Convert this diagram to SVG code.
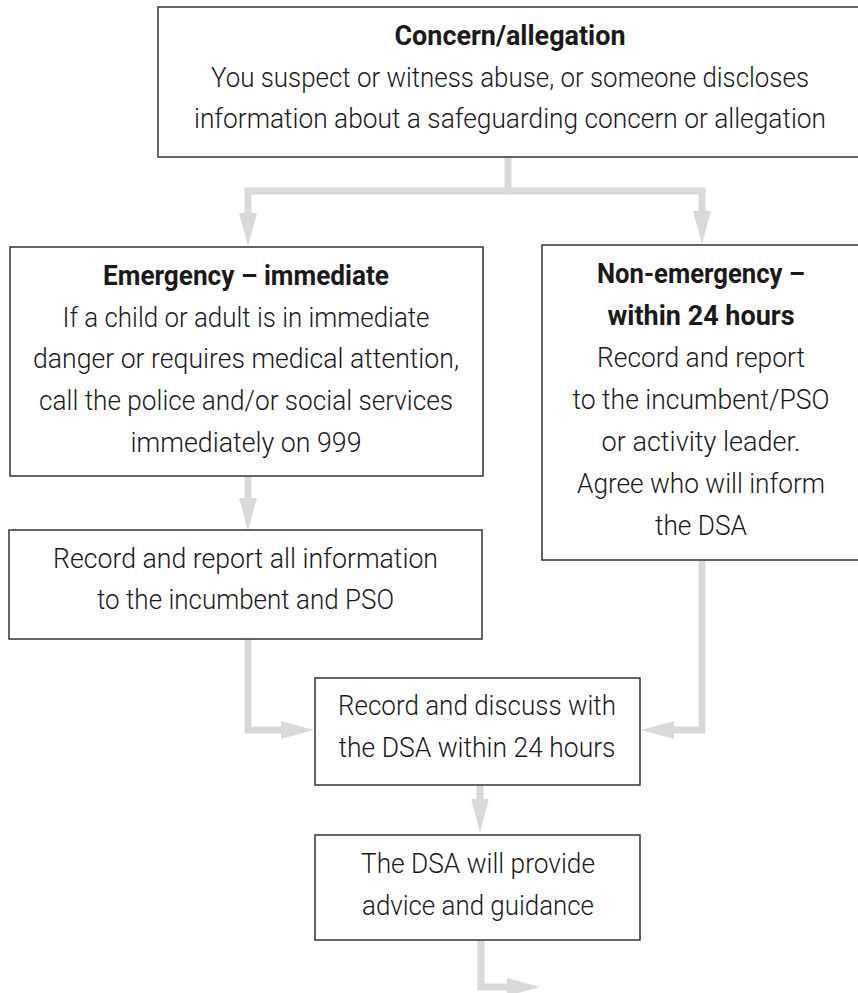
<svg xmlns="http://www.w3.org/2000/svg" width="858" height="993" viewBox="0 0 858 993">
<style>
.box{fill:#ffffff;stroke:#333333;stroke-width:1.5}
.t{font-family:Roboto,"Liberation Sans",sans-serif;font-size:27px;font-weight:300;fill:#1a1a1a;text-anchor:middle}
.b{font-weight:700}
.c{fill:none;stroke:#d9d9d9;stroke-width:7;stroke-linejoin:miter}
</style>
<defs>
<marker id="ah" markerUnits="userSpaceOnUse" markerWidth="34" markerHeight="18" refX="0" refY="9" orient="auto">
<path d="M0,0 L33,9 L0,18 Z" fill="#d9d9d9"/>
</marker>
</defs>
<rect width="858" height="993" fill="#ffffff"/>
<g id="connectors">
<path class="c" d="M508,157 V191 H248 V213" marker-end="url(#ah)"/>
<path class="c" d="M508,191 H702 V211" marker-end="url(#ah)"/>
<path class="c" d="M248,476 V498" marker-end="url(#ah)"/>
<path class="c" d="M248,639 V730 H281" marker-end="url(#ah)"/>
<path class="c" d="M702,560 V730 H674" marker-end="url(#ah)"/>
<path class="c" d="M480,785 V799" marker-end="url(#ah)"/>
<path class="c" d="M481,940 V987 H507" marker-end="url(#ah)"/>
</g>
<g id="concern">
<rect class="box" x="158" y="7" width="702" height="150"/>
<text class="t b" x="510" y="45" textLength="231" lengthAdjust="spacingAndGlyphs">Concern/allegation</text>
<text class="t" x="510" y="87" textLength="598" lengthAdjust="spacingAndGlyphs">You suspect or witness abuse, or someone discloses</text>
<text class="t" x="510" y="128" textLength="632" lengthAdjust="spacingAndGlyphs">information about a safeguarding concern or allegation</text>
</g>
<g id="emergency">
<rect class="box" x="10" y="247" width="473" height="229"/>
<text class="t b" x="246" y="285" textLength="286" lengthAdjust="spacingAndGlyphs">Emergency – immediate</text>
<text class="t" x="246" y="327" textLength="367" lengthAdjust="spacingAndGlyphs">If a child or adult is in immediate</text>
<text class="t" x="246" y="368" textLength="426" lengthAdjust="spacingAndGlyphs">danger or requires medical attention,</text>
<text class="t" x="246" y="410" textLength="414" lengthAdjust="spacingAndGlyphs">call the police and/or social services</text>
<text class="t" x="246" y="452" textLength="231" lengthAdjust="spacingAndGlyphs">immediately on 999</text>
</g>
<g id="non-emergency">
<rect class="box" x="542" y="245" width="318" height="315"/>
<text class="t b" x="701" y="283" textLength="208" lengthAdjust="spacingAndGlyphs">Non-emergency –</text>
<text class="t b" x="701" y="325" textLength="187" lengthAdjust="spacingAndGlyphs">within 24 hours</text>
<text class="t" x="701" y="367" textLength="208" lengthAdjust="spacingAndGlyphs">Record and report</text>
<text class="t" x="701" y="409" textLength="257" lengthAdjust="spacingAndGlyphs">to the incumbent/PSO</text>
<text class="t" x="701" y="451" textLength="199" lengthAdjust="spacingAndGlyphs">or activity leader.</text>
<text class="t" x="701" y="493" textLength="248" lengthAdjust="spacingAndGlyphs">Agree who will inform</text>
<text class="t" x="701" y="535" textLength="92" lengthAdjust="spacingAndGlyphs">the DSA</text>
</g>
<g id="record-report">
<rect class="box" x="9" y="530" width="473" height="109"/>
<text class="t" x="245.5" y="568" textLength="385" lengthAdjust="spacingAndGlyphs">Record and report all information</text>
<text class="t" x="245.5" y="609" textLength="297" lengthAdjust="spacingAndGlyphs">to the incumbent and PSO</text>
</g>
<g id="record-discuss">
<rect class="box" x="315" y="678" width="325" height="107"/>
<text class="t" x="477" y="715" textLength="278" lengthAdjust="spacingAndGlyphs">Record and discuss with</text>
<text class="t" x="477" y="757" textLength="277" lengthAdjust="spacingAndGlyphs">the DSA within 24 hours</text>
</g>
<g id="dsa-advice">
<rect class="box" x="315" y="835" width="325" height="105"/>
<text class="t" x="478" y="873" textLength="234" lengthAdjust="spacingAndGlyphs">The DSA will provide</text>
<text class="t" x="478" y="915" textLength="232" lengthAdjust="spacingAndGlyphs">advice and guidance</text>
</g>
</svg>
